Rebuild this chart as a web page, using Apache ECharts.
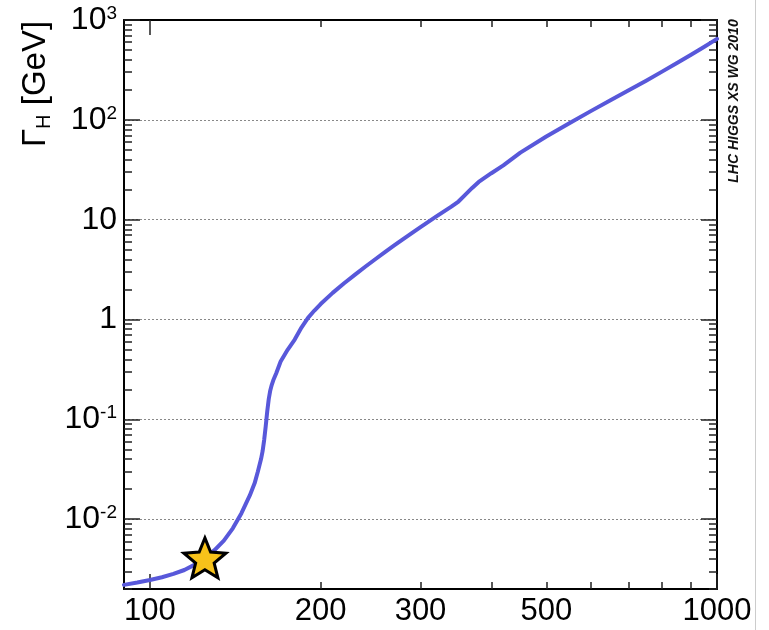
<!DOCTYPE html>
<html><head><meta charset="utf-8">
<script src="https://cdn.jsdelivr.net/npm/echarts@6/dist/echarts.min.js"></script>
<style>html,body{margin:0;padding:0;background:#fff}#c{width:769px;height:630px}</style>
</head><body><div id="c"></div>
<script>
// Higgs boson mass (GeV) and total width (GeV)
const massGeV  = [90, 95, 100, 105, 110, 115, 120, 125, 130, 135, 140, 145, 150, 153, 155, 157, 158, 159, 160, 161, 162, 163, 164, 165, 167, 170, 175, 180, 185, 190, 195, 200, 210, 220, 230, 240, 250, 260, 270, 280, 290, 300, 320, 340, 350, 360, 370, 380, 400, 420, 450, 500, 550, 600, 650, 700, 750, 800, 850, 900, 950, 1000];
const widthGeV = [0.00220, 0.00232, 0.00246, 0.00262, 0.00283, 0.00310, 0.00351, 0.00410, 0.00490, 0.00610, 0.00810, 0.0115, 0.0173, 0.0230, 0.0300, 0.0400, 0.0480, 0.0620, 0.0850, 0.120, 0.160, 0.195, 0.222, 0.246, 0.290, 0.380, 0.500, 0.630, 0.830, 1.04, 1.23, 1.43, 1.85, 2.31, 2.82, 3.40, 4.04, 4.76, 5.55, 6.43, 7.39, 8.43, 10.8, 13.5, 15.2, 17.8, 20.8, 23.9, 29.2, 35.0, 46.9, 68.0, 93.0, 123, 158, 199, 247, 304, 370, 449, 540, 647];
const starMassGeV  = [125];
const starWidthGeV = [0.0041];

const xRange = [90, 1000];
const yRange = [0.002, 1000];
const xLabelValues = [100, 200, 300, 500, 1000];
const xMajorTickValues = [100, 1000];
const xMinorTickValues = [200, 300, 400, 500, 600, 700, 800, 900];
const yMajorTickValues = [0.01, 0.1, 1, 10, 100, 1000];
const yTickLabels = ['10^-2', '10^-1', '1', '10', '10^2', '10^3'];
const yMinorMultipliers = [2, 3, 4, 5, 6, 7, 8, 9];
const yMinorDecades = [0.001, 0.01, 0.1, 1, 10, 100];

const L = Math.log10;
const FONT = 'Liberation Sans';
const yMinorTickValues = [];
yMinorDecades.forEach(d => yMinorMultipliers.forEach(m => {
  const v = m * d;
  if (v >= yRange[0] && v <= yRange[1]) yMinorTickValues.push(v);
}));

function yLabelRich(v) {
  const idx = yMajorTickValues.findIndex(t => Math.abs(L(t) - v) < 1e-6);
  const s = idx >= 0 ? yTickLabels[idx] : '';
  const p = s.split('^');
  return p.length > 1 ? '{n|' + p[0] + '}{s|' + p[1] + '}' : '{n|' + p[0] + '}';
}

const tickLine = { color: '#222', width: 1.5 };
const frameLine = { color: '#000', width: 2 };

function makeX(pos, ticks, len, showLine, labels) {
  return {
    type: 'value', position: pos, min: L(xRange[0]), max: L(xRange[1]),
    axisLine: { show: showLine, onZero: false, lineStyle: frameLine },
    axisTick: { show: true, inside: true, length: len, customValues: ticks.map(L), lineStyle: tickLine },
    axisLabel: labels ? {
      show: true, customValues: xLabelValues.map(L),
      formatter: v => String(Math.round(Math.pow(10, v))),
      fontSize: 31, fontFamily: FONT, color: '#000', margin: 7
    } : { show: false },
    splitLine: { show: false }
  };
}
function makeY(pos, ticks, len, showLine, labels, grid) {
  return {
    type: 'value', position: pos, min: L(yRange[0]), max: L(yRange[1]),
    axisLine: { show: showLine, onZero: false, lineStyle: frameLine },
    axisTick: { show: true, inside: true, length: len, customValues: ticks.map(L), lineStyle: tickLine },
    axisLabel: labels ? {
      show: true, customValues: yMajorTickValues.map(L),
      formatter: v => yLabelRich(v), margin: 7,
      rich: {
        n: { fontSize: 32, fontFamily: FONT, color: '#000' },
        s: { fontSize: 19, fontFamily: FONT, color: '#000', verticalAlign: 'top' }
      }
    } : { show: false },
    splitLine: grid ? { show: true, lineStyle: { color: '#888', width: 1, type: [2, 2] } } : { show: false }
  };
}

const starPath = 'path://M50,0 L62.93,32.2 L97.55,34.55 L70.92,56.8 L79.39,90.45 L50,72 L20.61,90.45 L29.08,56.8 L2.45,34.55 L37.07,32.2 Z';

const chart = echarts.init(document.getElementById('c'), null, { renderer: 'canvas' });
chart.setOption({
  animation: false,
  backgroundColor: '#fff',
  grid: { left: 124, right: 52, top: 20, bottom: 41, containLabel: false, outerBoundsMode: 'none' },
  xAxis: [
    makeX('bottom', xMajorTickValues, 15, true, true),
    makeX('bottom', xMinorTickValues, 7, false, false),
    makeX('top', xMajorTickValues, 15, true, false),
    makeX('top', xMinorTickValues, 7, false, false)
  ],
  yAxis: [
    makeY('left', yMajorTickValues, 16, true, true, true),
    makeY('left', yMinorTickValues, 8, false, false, false),
    makeY('right', yMajorTickValues, 16, true, false, false),
    makeY('right', yMinorTickValues, 8, false, false, false)
  ],
  series: [
    {
      type: 'line', xAxisIndex: 0, yAxisIndex: 0,
      data: massGeV.map((m, i) => [L(m), L(widthGeV[i])]),
      showSymbol: false, symbol: 'none', smooth: false,
      lineStyle: { color: '#5858da', width: 4, join: 'round', cap: 'round' }, z: 2
    },
    {
      type: 'scatter', xAxisIndex: 0, yAxisIndex: 0,
      data: starMassGeV.map((m, i) => [L(m), L(starWidthGeV[i])]),
      symbol: starPath, symbolSize: 42, symbolKeepAspect: true,
      itemStyle: { color: '#f7c21a', borderColor: '#000', borderWidth: 3, opacity: 1 }, z: 3
    }
  ],
  graphic: [
    {
      type: 'text', x: 36, y: 84, rotation: Math.PI / 2, z: 10,
      style: {
        text: '{g|Γ}{h|H}{g| [GeV]}', align: 'center', verticalAlign: 'middle',
        rich: {
          g: { fontSize: 33, fontFamily: FONT, fill: '#000', lineHeight: 36 },
          h: { fontSize: 20, fontFamily: FONT, fill: '#000', verticalAlign: 'bottom', lineHeight: 20 }
        }
      }
    },
    {
      type: 'text', x: 734, y: 101, rotation: Math.PI / 2, z: 10,
      style: {
        text: 'LHC HIGGS XS WG 2010', align: 'center', verticalAlign: 'middle',
        fontSize: 14, fontFamily: FONT, fontWeight: 'bold', fontStyle: 'italic', fill: '#111'
      }
    },
    {
      type: 'line', z: 10,
      shape: { x1: 755.5, y1: 0, x2: 755.5, y2: 630 },
      style: { stroke: '#cccccc', lineWidth: 1 }
    }
  ]
});
</script>
</body></html>
